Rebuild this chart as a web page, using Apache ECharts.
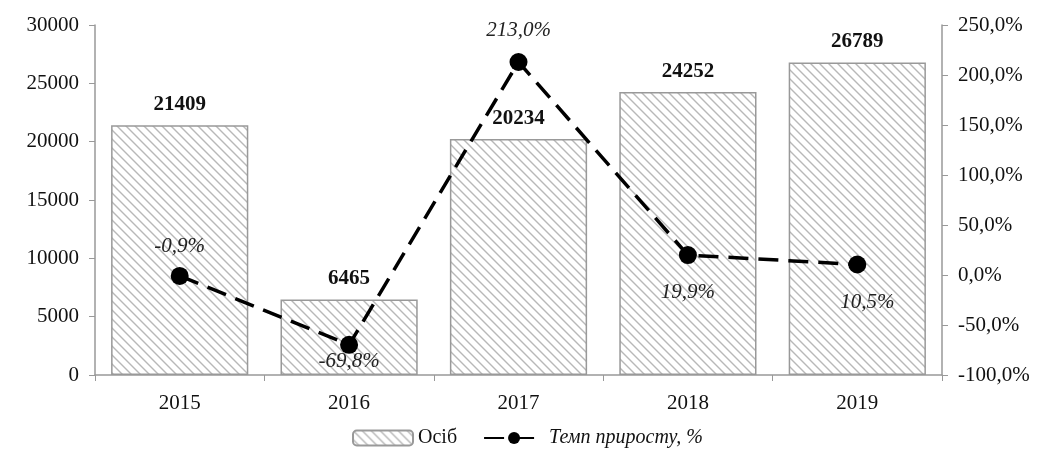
<!DOCTYPE html>
<html>
<head>
<meta charset="utf-8">
<script src="https://cdn.jsdelivr.net/npm/echarts@6/dist/echarts.min.js"></script>
<style>
html, body { margin: 0; padding: 0; background: #fff; }
#chart { width: 1055px; height: 457px; }
</style>
</head>
<body>
<div id="chart"></div>
<script>
const years = ['2015', '2016', '2017', '2018', '2019'];
const persons = [21409, 6465, 20234, 24252, 26789];
const growth = [-0.9, -69.8, 213.0, 19.9, 10.5];

// hatch pattern for the bars
const tile = document.createElement('canvas');
tile.width = 9; tile.height = 9;
const g = tile.getContext('2d');
g.fillStyle = '#fff';
g.fillRect(0, 0, 9, 9);
g.strokeStyle = '#b8b8b8';
g.lineWidth = 1.4;
g.beginPath();
g.moveTo(-1, -1); g.lineTo(10, 10);
g.moveTo(-1, 8); g.lineTo(1, 10);
g.moveTo(8, -1); g.lineTo(10, 1);
g.stroke();
const hatch = { image: tile, repeat: 'repeat' };

const font = '"Liberation Serif", "Times New Roman", serif';
const pct = v => v.toFixed(1).replace('.', ',') + '%';

// where each growth label sits relative to its marker
const growthLabels = [
    { position: 'top', distance: 10 },
    { position: 'bottom', distance: -3 },
    { position: 'top', distance: 12 },
    { position: 'bottom', distance: 18 },
    { position: 'bottom', distance: 18, offset: [10, 0] }
];

const chart = echarts.init(document.getElementById('chart'));
chart.setOption({
    animation: false,
    textStyle: { fontFamily: font },
    grid: { left: 95, right: 113, top: 25, bottom: 82 },
    legend: {
        bottom: 4,
        left: 'center',
        itemGap: 26,
        itemWidth: 60,
        itemHeight: 15,
        textStyle: { fontFamily: font, fontSize: 20, color: '#111' },
        data: [
            { name: 'Осіб' },
            { name: 'Темп приросту, %', textStyle: { fontStyle: 'italic' } }
        ]
    },
    xAxis: {
        type: 'category',
        data: years,
        axisLine: { lineStyle: { color: '#999', width: 1.5 } },
        axisTick: { show: true, length: 6, lineStyle: { color: '#999' } },
        axisLabel: { fontSize: 21, color: '#111', margin: 18 }
    },
    yAxis: [
        {
            type: 'value', min: 0, max: 30000, interval: 5000,
            splitLine: { show: false },
            axisLine: { show: true, lineStyle: { color: '#999', width: 1.5 } },
            axisTick: { show: true, length: 6, lineStyle: { color: '#999' } },
            axisLabel: { fontSize: 21, color: '#111', margin: 16, formatter: v => String(v) }
        },
        {
            type: 'value', min: -100, max: 250, interval: 50,
            splitLine: { show: false },
            axisLine: { show: true, lineStyle: { color: '#999', width: 1.5 } },
            axisTick: { show: true, length: 6, lineStyle: { color: '#999' } },
            axisLabel: { fontSize: 21, color: '#111', margin: 16, formatter: pct }
        }
    ],
    series: [
        {
            name: 'Осіб',
            type: 'bar',
            data: persons,
            barCategoryGap: '19%',
            itemStyle: { color: hatch, borderColor: '#999', borderWidth: 1.5 },
            label: {
                show: true, position: 'top', distance: 10,
                fontSize: 21, fontWeight: 'bold', color: '#111'
            }
        },
        {
            name: 'Темп приросту, %',
            type: 'line',
            yAxisIndex: 1,
            data: growth.map((v, i) => ({ value: v, label: growthLabels[i] })),
            symbol: 'circle',
            symbolSize: 18,
            itemStyle: { color: '#000' },
            lineStyle: { color: '#000', width: 3.5, type: [20, 10] },
            label: {
                show: true, fontSize: 21, fontStyle: 'italic',
                color: '#222', formatter: p => pct(p.value)
            },
            z: 5
        }
    ]
});
</script>
</body>
</html>
